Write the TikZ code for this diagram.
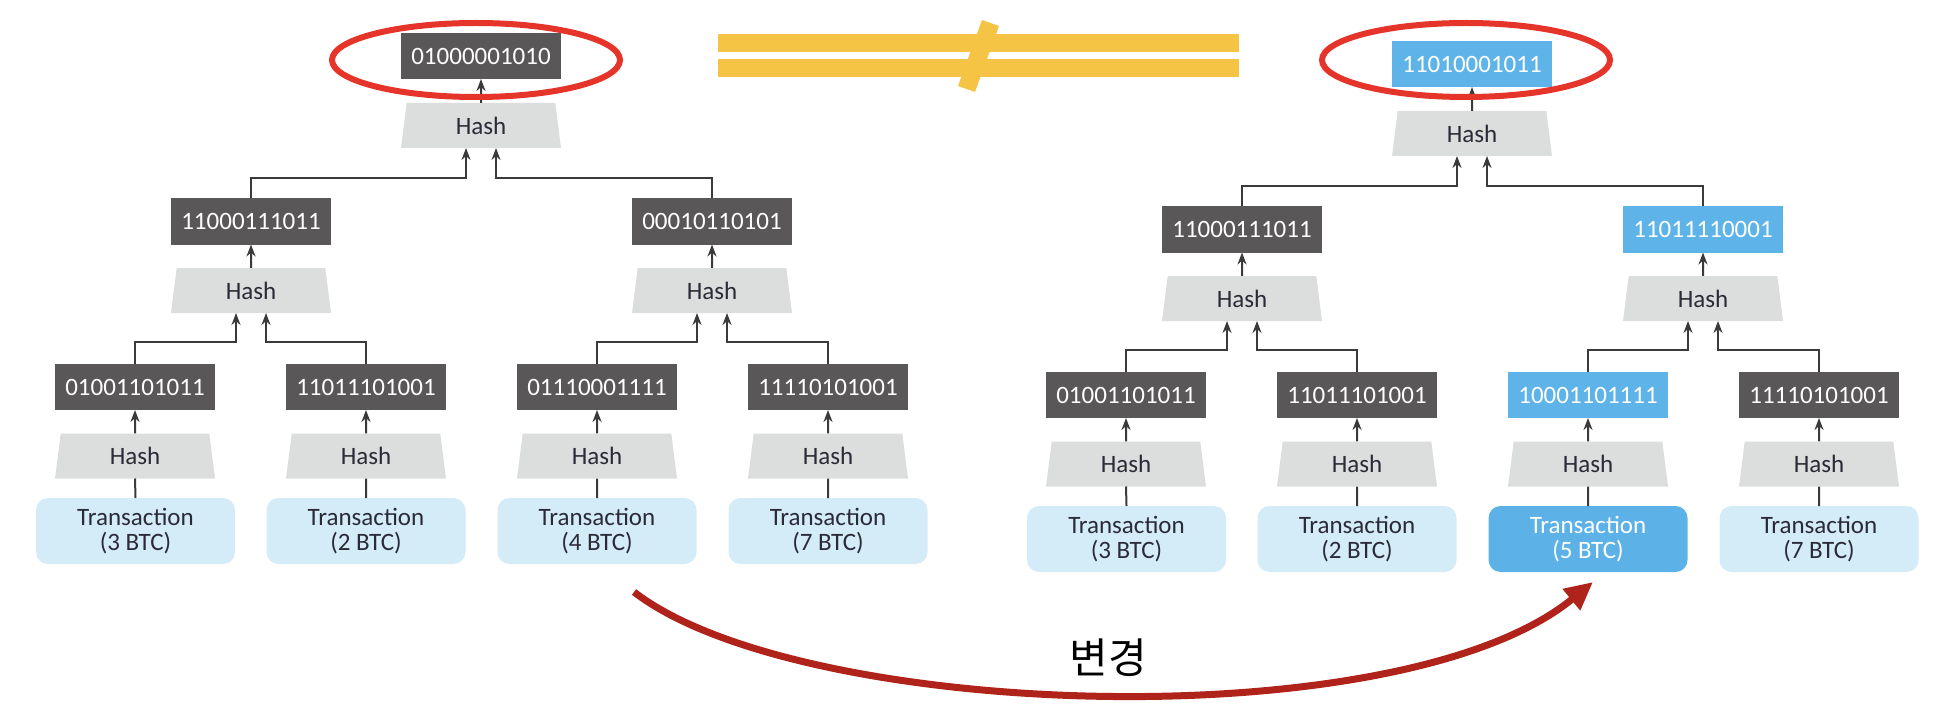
\documentclass[tikz,border=0pt]{standalone}
\usepackage{fontspec}
\setmainfont{Carlito}
\newfontfamily\krfont{Noto Sans CJK KR}
\usetikzlibrary{shapes.geometric,arrows.meta}
\definecolor{boxdark}{HTML}{595757}
\definecolor{boxblue}{HTML}{5EB3E8}
\definecolor{txlight}{HTML}{D4EBF8}
\definecolor{txblue}{HTML}{5CB1E7}
\definecolor{hashgray}{HTML}{DCDDDD}
\definecolor{lncol}{HTML}{3A3A3A}
\definecolor{txtcol}{HTML}{2B2B38}
\definecolor{yellowc}{HTML}{F5C445}
\definecolor{ellred}{HTML}{E5352A}
\definecolor{arrred}{HTML}{B0231A}
\newcommand{\fsz}{\fontsize{25pt}{25pt}\selectfont}
\begin{document}
\begin{tikzpicture}[x=1pt,y=-1pt,
  hb/.style={rectangle, fill=boxdark, minimum width=160pt, minimum height=46pt, inner sep=0pt, outer sep=0pt, text=white, font=\fsz},
  hbb/.style={hb, fill=boxblue},
  hs/.style={trapezium, trapezium angle=72, trapezium stretches body=true, fill=hashgray, minimum width=160pt, minimum height=45pt, inner sep=0pt, outer sep=0pt, text=txtcol, font=\fsz},
  tx/.style={rectangle, rounded corners=12pt, fill=txlight, minimum width=199pt, minimum height=66pt, inner sep=0pt, outer sep=0pt, align=center, text=txtcol, font=\fsz},
  txb/.style={tx, fill=txblue, text=white},
  arr/.style={draw=lncol, line width=2pt, -{Stealth[length=12pt,width=9pt]}},
  ln/.style={draw=lncol, line width=2pt},
  ring/.style={ellipse, draw=ellred, line width=6pt, minimum width=288pt, minimum height=74pt, inner sep=0pt},
  bigarr/.style={draw=arrred, line width=7pt, -{Triangle[length=28pt,width=26pt]}},
  yband/.style={fill=yellowc, draw=none}
]
\useasboundingbox (0,0) rectangle (1940,714);

% ---------------- left tree ----------------
\node[hb] (a0) at (481,56) {01000001010};
\node[hs] (ah0) at (481,125.5) {Hash};
\node[hb] (a1) at (251,221.5) {11000111011};
\node[hb] (a2) at (712,221.5) {00010110101};
\node[hs] (ah1) at (251,290.5) {Hash};
\node[hs] (ah2) at (712,290.5) {Hash};
\node[hb] (a3) at (135,387) {01001101011};
\node[hb] (a4) at (366,387) {11011101001};
\node[hb] (a5) at (597,387) {01110001111};
\node[hb] (a6) at (828,387) {11110101001};
\node[hs] (ah3) at (135,456) {Hash};
\node[hs] (ah4) at (366,456) {Hash};
\node[hs] (ah5) at (597,456) {Hash};
\node[hs] (ah6) at (828,456) {Hash};
\node[tx] (at3) at (135.5,531) {Transaction\\(3 BTC)};
\node[tx] (at4) at (366,531) {Transaction\\(2 BTC)};
\node[tx] (at5) at (597,531) {Transaction\\(4 BTC)};
\node[tx] (at6) at (828,531) {Transaction\\(7 BTC)};
\coordinate (ja0) at (0,178);
\coordinate (ja1) at (0,342);

\draw[arr] (ah0.north) -- (a0.south);
\draw[arr] (a1.north) -- (a1.north |- ja0) -| ([xshift=-15pt]ah0.south);
\draw[arr] (a2.north) -- (a2.north |- ja0) -| ([xshift=15pt]ah0.south);
\draw[arr] (ah1.north) -- (a1.south);
\draw[arr] (ah2.north) -- (a2.south);
\draw[arr] (a3.north) -- (a3.north |- ja1) -| ([xshift=-15pt]ah1.south);
\draw[arr] (a4.north) -- (a4.north |- ja1) -| ([xshift=15pt]ah1.south);
\draw[arr] (a5.north) -- (a5.north |- ja1) -| ([xshift=-15pt]ah2.south);
\draw[arr] (a6.north) -- (a6.north |- ja1) -| ([xshift=15pt]ah2.south);
\foreach \i in {3,4,5,6}{
  \draw[arr] (ah\i.north) -- (a\i.south);
  \draw[ln] (at\i.north) -- (ah\i.south);
}

% ---------------- right tree ----------------
\node[hbb] (b0) at (1472,64) {11010001011};
\node[hs] (bh0) at (1472,133.5) {Hash};
\node[hb] (b1) at (1242,229.5) {11000111011};
\node[hbb] (b2) at (1703,229.5) {11011110001};
\node[hs] (bh1) at (1242,298.5) {Hash};
\node[hs] (bh2) at (1703,298.5) {Hash};
\node[hb] (b3) at (1126,395) {01001101011};
\node[hb] (b4) at (1357,395) {11011101001};
\node[hbb] (b5) at (1588,395) {10001101111};
\node[hb] (b6) at (1819,395) {11110101001};
\node[hs] (bh3) at (1126,464) {Hash};
\node[hs] (bh4) at (1357,464) {Hash};
\node[hs] (bh5) at (1588,464) {Hash};
\node[hs] (bh6) at (1819,464) {Hash};
\node[tx] (bt3) at (1126.5,539) {Transaction\\(3 BTC)};
\node[tx] (bt4) at (1357,539) {Transaction\\(2 BTC)};
\node[txb] (bt5) at (1588,539) {Transaction\\(5 BTC)};
\node[tx] (bt6) at (1819,539) {Transaction\\(7 BTC)};
\coordinate (jb0) at (0,186);
\coordinate (jb1) at (0,350);

\draw[arr] (bh0.north) -- (b0.south);
\draw[arr] (b1.north) -- (b1.north |- jb0) -| ([xshift=-15pt]bh0.south);
\draw[arr] (b2.north) -- (b2.north |- jb0) -| ([xshift=15pt]bh0.south);
\draw[arr] (bh1.north) -- (b1.south);
\draw[arr] (bh2.north) -- (b2.south);
\draw[arr] (b3.north) -- (b3.north |- jb1) -| ([xshift=-15pt]bh1.south);
\draw[arr] (b4.north) -- (b4.north |- jb1) -| ([xshift=15pt]bh1.south);
\draw[arr] (b5.north) -- (b5.north |- jb1) -| ([xshift=-15pt]bh2.south);
\draw[arr] (b6.north) -- (b6.north |- jb1) -| ([xshift=15pt]bh2.south);
\foreach \i in {3,4,5,6}{
  \draw[arr] (bh\i.north) -- (b\i.south);
  \draw[ln] (bt\i.north) -- (bh\i.south);
}

% ---------------- not-equal sign ----------------
\path[yband] (718,34) rectangle (1239,52.5);
\path[yband] (718,58.7) rectangle (1239,77.3);
\path[yband] (982,20) -- (999,26) -- (975,92) -- (958,86) -- cycle;

% ---------------- red rings ----------------
\node[ring] (ra) at (476,60) {};
\node[ring] (rb) at (1466,60) {};

% ---------------- change arrow ----------------
\coordinate (cs) at (634,592);
\coordinate (ce) at (1593,582);
\draw[bigarr] (cs) .. controls (800,720) and (1400,740) .. (ce);
\node[font=\krfont\fontsize{42pt}{42pt}\selectfont, inner sep=0pt] (lbl) at (1108,658) {변경};
\end{tikzpicture}
\end{document}
